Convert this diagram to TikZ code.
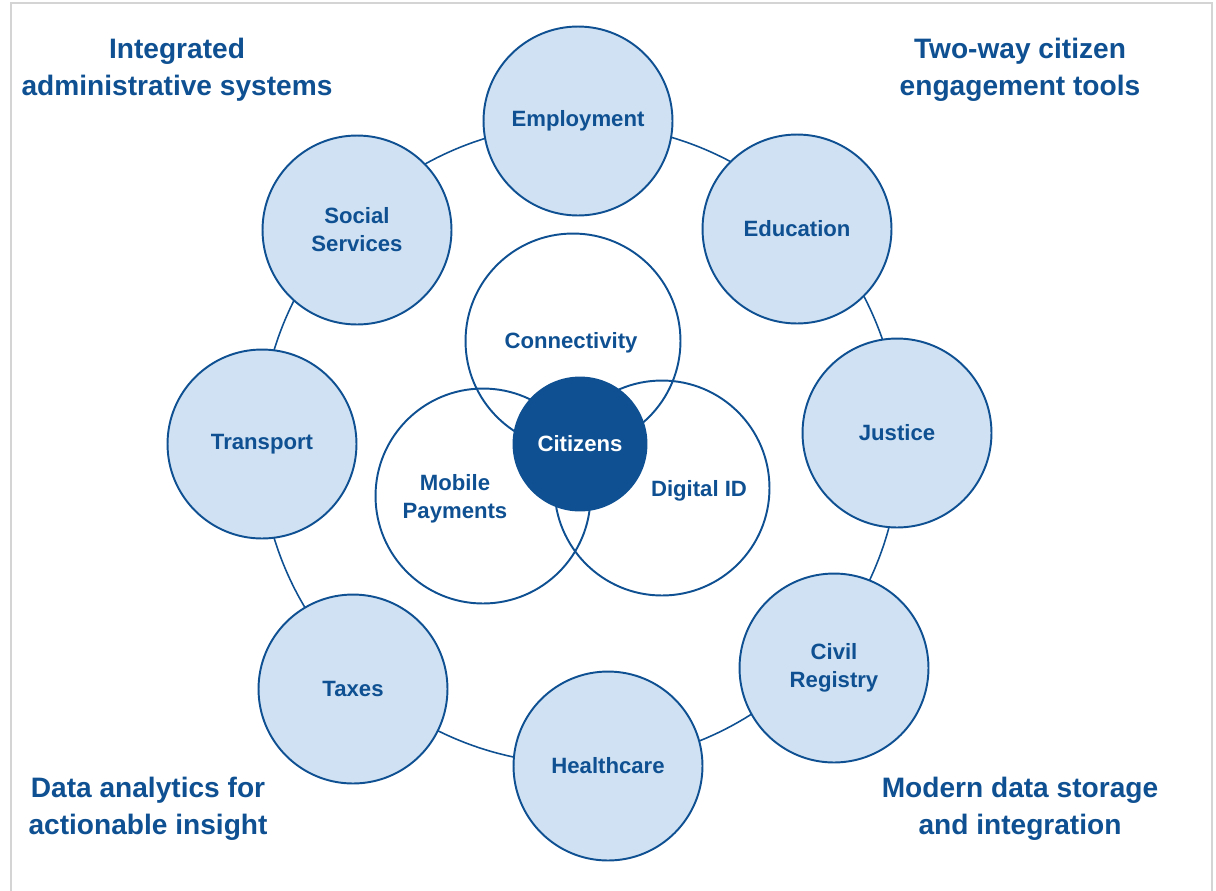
\documentclass[tikz,border=0pt]{standalone}
\usepackage{fontspec}
\setmainfont{Liberation Sans}
\usetikzlibrary{positioning}

\definecolor{navy}{RGB}{14,80,145}
\definecolor{paleblue}{RGB}{207,225,242}
\definecolor{framegray}{RGB}{212,212,212}

\begin{document}
\begin{tikzpicture}[x=0.02cm, y=-0.02cm, semithick]
\tikzstyle{sector}=[circle, draw=navy, line width=1.1pt, fill=paleblue, minimum size=3.78cm, inner sep=0pt, text=navy, align=center, font=\fontsize{12.6}{15.9}\selectfont\bfseries]
\tikzstyle{pillar}=[circle, draw=navy, line width=1.1pt, minimum size=4.3cm, inner sep=0pt]
\tikzstyle{ptext}=[text=navy, align=center, font=\fontsize{12.6}{15.9}\selectfont\bfseries]
\tikzstyle{core}=[circle, draw=navy, fill=navy, line width=1.1pt, minimum size=2.66cm, inner sep=0pt, text=white, font=\fontsize{12.6}{15.9}\selectfont\bfseries]
\tikzstyle{corner}=[text=navy, align=center, font=\fontsize{16}{21}\selectfont\bfseries]

\useasboundingbox (0,0) rectangle (1216,890);
\draw[framegray, line width=1.4pt] (11,892) -- (11,3) -- (1212,3) -- (1212,892);

% outer ring of services
\coordinate (hub) at (580,444);
\draw[navy, line width=0.9pt] (hub) circle (6.4cm);

\node[sector] (emp) at (578,121) {Employment};
\node[sector] (edu) at (797,229) {Education};
\node[sector] (jus) at (897,433) {Justice};
\node[sector] (civ) at (834,668) {Civil\\Registry};
\node[sector] (hea) at (608,766) {Healthcare};
\node[sector] (tax) at (353,689) {Taxes};
\node[sector] (tra) at (262,444) {Transport};
\node[sector] (soc) at (357,230) {Social\\Services};

% inner pillars
\node[pillar] (con) at (573,341) {};
\node[pillar] (mob) at (483,496) {};
\node[pillar] (did) at (662,488) {};
\node[ptext] (cont) at (571,343) {Connectivity};
\node[ptext] (mobt) at (455,499) {Mobile\\Payments};
\node[ptext] (didt) at (699,491) {Digital ID};

\node[core] (cit) at (hub) {Citizens};

% corner captions
\node[corner] (ias) at (177,70) {Integrated\\administrative systems};
\node[corner] (tce) at (1020,70) {Two-way citizen\\engagement tools};
\node[corner] (dai) at (148,809) {Data analytics for\\actionable insight};
\node[corner] (mds) at (1020,809) {Modern data storage\\and integration};
\end{tikzpicture}
\end{document}
